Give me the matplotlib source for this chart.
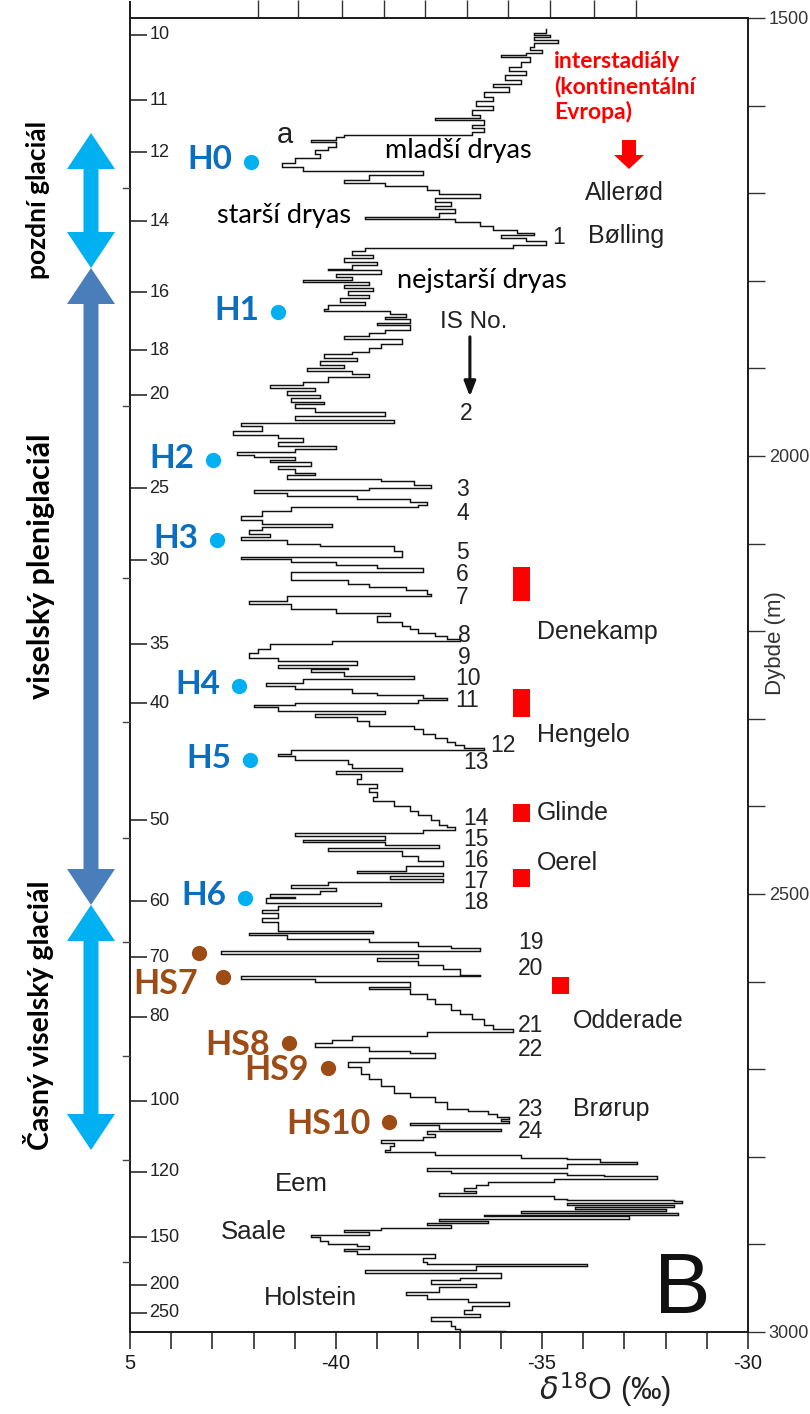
import numpy as np
import matplotlib
matplotlib.use("Agg")
import matplotlib.pyplot as plt
from matplotlib.patches import Polygon, Rectangle

plt.rcParams['font.family'] = ['Liberation Sans', 'DejaVu Sans']
CAL = ['Lato', 'DejaVu Sans']
HEL = ['Liberation Sans', 'DejaVu Sans']

# ---------------- GRIP oxygen-isotope profile ----------------
# core depth (m) and delta-18O (permil), read top to bottom
depth_m = [
    1513, 1517, 1519, 1522, 1525, 1528, 1533, 1537, 1540, 1542, 1544, 1550,
    1556, 1560, 1565, 1571, 1575, 1579, 1584, 1590, 1595, 1601, 1605, 1611,
    1614, 1617, 1622, 1626, 1630, 1633, 1636, 1639, 1642, 1647, 1651, 1655,
    1660, 1666, 1670, 1675, 1679, 1685, 1688, 1692, 1696, 1701, 1705, 1710,
    1715, 1718, 1723, 1727, 1730,
    1733, 1738, 1742, 1745, 1748, 1751, 1755, 1759, 1763, 1766, 1770, 1774,
    1778, 1782, 1786, 1788, 1792, 1796, 1799, 1801, 1805, 1808, 1812, 1816,
    1820, 1824, 1828, 1832, 1834, 1838, 1841, 1844, 1848, 1851, 1856, 1860,
    1863, 1867, 1872, 1877, 1881, 1884, 1888, 1892, 1896, 1900, 1903, 1906,
    1910, 1915, 1919, 1922, 1926, 1930, 1934, 1938, 1941, 1945, 1950, 1954,
    1959, 1962, 1966, 1972, 1976, 1980, 1984, 1989,
    1992, 1996, 1999, 2001, 2004, 2007, 2011, 2015, 2019, 2022, 2026, 2029,
    2033, 2037, 2039, 2042, 2046, 2049, 2052, 2056, 2058, 2063, 2068, 2073,
    2078, 2081, 2085, 2089, 2092, 2096, 2100, 2103, 2109, 2115, 2118, 2121,
    2124, 2128, 2132, 2137, 2141, 2146, 2149, 2153, 2157, 2160, 2165, 2169,
    2175, 2179, 2183, 2189, 2194, 2198, 2202, 2206, 2209, 2211, 2215, 2220,
    2225, 2231, 2234, 2239, 2242,
    2243, 2247, 2251, 2254, 2259, 2263, 2266, 2270, 2273, 2276, 2279, 2282,
    2284, 2287, 2291, 2294, 2298, 2303, 2308, 2312, 2317, 2322, 2327, 2330,
    2333, 2336, 2340, 2343, 2347, 2352, 2356, 2360, 2363, 2369, 2374, 2379,
    2384, 2389, 2394, 2400, 2405, 2410, 2416, 2421, 2424, 2427, 2430, 2434,
    2438, 2441, 2444, 2447, 2451, 2457, 2462, 2468, 2474, 2476, 2480, 2483,
    2486, 2490,
    2493, 2497, 2500, 2503, 2505, 2510, 2514, 2518, 2522, 2527, 2532, 2537,
    2542, 2544, 2547, 2551, 2555, 2559, 2562, 2565, 2568, 2573, 2576, 2581,
    2586, 2592, 2594, 2597, 2601, 2606, 2609, 2614, 2620, 2626, 2632, 2637,
    2643, 2649, 2654, 2658, 2662, 2667, 2670, 2675, 2679, 2682, 2687, 2692,
    2698, 2706, 2711, 2719, 2727, 2732, 2738, 2746,
    2748, 2751, 2754, 2757, 2759, 2761, 2764, 2768, 2770, 2774, 2777, 2781,
    2784, 2788, 2792, 2795, 2798, 2801, 2803, 2806, 2808, 2813, 2816, 2819,
    2821, 2822, 2825, 2829, 2832, 2836, 2839, 2841, 2845, 2848, 2849, 2851,
    2853, 2855, 2857, 2860, 2862, 2864, 2867, 2868, 2871, 2873, 2876, 2878,
    2881, 2883, 2886, 2889, 2892, 2896, 2900, 2902, 2905, 2908, 2911, 2916,
    2920, 2922, 2925, 2929, 2933, 2938, 2941, 2945, 2949, 2954, 2958, 2962,
    2966, 2970, 2975, 2979, 2983, 2988, 2993, 2997, 2999,
]
d18o = [
    -34.9, -35.2, -34.8, -35.2, -34.6, -35.2, -35.3, -35.0, -35.4, -36.0, -35.3, -35.5,
    -35.8, -35.4, -35.9, -35.5, -36.2, -35.8, -36.4, -36.2, -36.6, -36.2, -36.7, -36.5,
    -37.6, -36.4, -36.7, -36.4, -36.7, -39.8, -40.0, -40.6, -40.0, -40.2, -40.5, -40.4,
    -41.0, -41.3, -40.8, -37.9, -39.2, -39.8, -38.8, -37.8, -37.5, -36.5, -37.6, -37.2,
    -37.6, -37.1, -37.5, -39.3, -37.1,
    -36.5, -36.2, -35.6, -35.2, -36.0, -35.4, -34.9, -35.7, -39.3, -39.6, -39.1, -39.8,
    -39.0, -39.6, -40.2, -38.9, -40.0, -39.6, -40.8, -39.2, -39.8, -39.1, -39.7, -39.2,
    -39.9, -39.3, -40.2, -40.3, -38.7, -38.3, -38.8, -38.2, -39.0, -38.2, -38.8, -39.2,
    -39.8, -38.4, -38.9, -39.2, -39.6, -40.3, -39.5, -40.4, -39.8, -40.7, -39.6, -39.2,
    -40.2, -40.8, -41.6, -40.5, -41.2, -40.4, -41.1, -40.3, -41.0, -40.5, -38.8, -41.0,
    -38.6, -42.3, -41.8, -42.5, -41.4, -40.8, -41.4, -40.0,
    -41.0, -42.4, -42.0, -41.0, -41.6, -40.6, -41.4, -41.0, -40.5, -41.2, -38.9, -38.1,
    -37.7, -39.2, -42.0, -41.2, -39.5, -38.2, -37.8, -38.0, -41.1, -41.8, -42.3, -41.8,
    -40.1, -41.8, -42.1, -41.6, -42.3, -41.2, -40.4, -38.6, -38.4, -42.3, -41.1, -40.0,
    -39.0, -37.9, -41.1, -41.1, -39.7, -39.2, -38.3, -37.8, -37.7, -41.2, -42.1, -41.1,
    -40.0, -38.7, -39.0, -38.4, -38.2, -38.0, -37.6, -37.3, -37.0, -40.1, -41.6, -41.9,
    -42.1, -41.4, -39.5, -41.4, -39.7,
    -40.6, -39.8, -38.1, -40.8, -41.7, -41.0, -39.6, -39.0, -37.9, -37.3, -38.0, -41.0,
    -42.0, -41.4, -38.8, -40.5, -39.5, -39.2, -38.1, -37.9, -37.6, -37.3, -37.1, -36.9,
    -36.4, -41.1, -41.4, -41.0, -39.7, -39.6, -38.4, -40.0, -39.4, -39.5, -39.0, -39.2,
    -39.0, -39.1, -38.6, -38.2, -38.0, -37.7, -37.5, -37.3, -37.1, -37.9, -41.0, -38.8,
    -40.8, -38.8, -37.5, -40.2, -38.4, -38.0, -37.4, -38.3, -39.5, -37.4, -38.7, -37.4,
    -40.2, -41.1,
    -40.0, -40.4, -41.6, -41.0, -41.7, -38.9, -41.4, -41.8, -41.4, -41.8, -41.4, -41.4,
    -39.1, -42.1, -41.2, -39.2, -38.0, -37.2, -36.5, -42.8, -38.0, -39.0, -38.0, -37.4,
    -37.0, -36.5, -42.3, -40.5, -38.2, -39.2, -38.2, -37.8, -37.6, -37.2, -37.0, -36.7,
    -36.4, -36.2, -35.7, -37.8, -39.6, -40.1, -40.5, -39.2, -38.2, -37.6, -39.2, -39.7,
    -39.4, -39.2, -38.9, -38.6, -38.2, -37.6, -37.3, -36.8,
    -36.3, -36.1, -35.8, -36.0, -35.8, -38.2, -37.5, -36.0, -37.8, -37.6, -37.9, -38.9,
    -38.6, -38.7, -38.8, -37.6, -35.5, -34.4, -33.6, -32.7, -34.4, -37.8, -37.2, -34.4,
    -33.5, -32.2, -34.7, -36.3, -36.6, -36.9, -36.6, -37.5, -34.7, -34.4, -31.8, -31.6,
    -34.4, -31.8, -34.2, -32.0, -35.5, -31.7, -36.4, -32.9, -37.5, -36.3, -37.8, -37.2,
    -38.9, -39.8, -39.2, -40.6, -40.4, -40.2, -39.5, -39.2, -39.8, -39.5, -37.6, -37.9,
    -37.8, -33.9, -36.6, -39.3, -36.0, -37.0, -37.7, -36.6, -37.5, -38.3, -37.8, -36.8,
    -35.8, -36.7, -36.9, -36.5, -37.7, -37.2, -37.1, -37.0, -35.9,
]

# age scale (ka) written inside the left axis, at its core depth (m)
age_ka = [10, 11, 12, 14, 16, 18, 20, 25, 30, 35, 40, 50, 60, 70, 80,
          100, 120, 150, 200, 250]
age_depth_m = [1519, 1594, 1653, 1732, 1813, 1879, 1930, 2037, 2119, 2215,
               2282, 2416, 2508, 2572, 2640, 2736, 2817, 2892, 2946, 2978]

# interstadial numbers (IS No.); closely spaced runs share one text block
is_groups = ['1', '2', '3\n4', '5', '6\n7', '8\n9', '10\n11', '12', '13',
             '14\n15\n16\n17\n18', '19\n20', '21\n22', '23\n24']
is_depth_m = [1751, 1951, 2052, 2110, 2148, 2217, 2267, 2330, 2350, 2462,
              2570, 2664, 2759]
is_x = [-34.75, -37.0, -37.08, -37.08, -37.08, -37.03, -37.1, -36.25, -36.9,
        -36.9, -35.58, -35.58, -35.58]
is_spacing = [1.0, 1.0, 1.05, 1.0, 1.0, 0.95, 0.95, 1.0, 1.0, 0.89, 1.18,
              1.05, 0.95]

# Heinrich events H0-H6 (blue) and Heinrich stadials HS7-HS10 (brown)
h_labels = ['H0', 'H1', 'H2', 'H3', 'H4', 'H5', 'H6']
h_depth_m = [1664, 1836, 2005, 2096, 2263, 2347, 2504]
h_x = [-42.06, -41.41, -42.99, -42.89, -42.35, -42.09, -42.21]

hs_labels = ['', 'HS7', 'HS8', 'HS9', 'HS10']
hs_depth_m = [2567, 2595, 2670, 2699, 2760]
hs_x = [-43.33, -42.74, -41.14, -40.19, -38.71]

# continental (European) interstadials with their red markers
eu_names = ['Denekamp', 'Hengelo', 'Glinde', 'Oerel', 'Odderade', 'Brørup']
eu_depth_m = [2201, 2319, 2408, 2465, 2645, 2745]
eu_x = [-35.12, -35.12, -35.12, -35.12, -34.25, -34.25]
mark_top_m = [2127, 2266, 2397, 2471, 2595]
mark_bot_m = [2166, 2298, 2418, 2492, 2614]
mark_x0 = [-35.70, -35.70, -35.70, -35.70, -34.75]
mark_x1 = [-35.30, -35.30, -35.30, -35.30, -34.35]

# ---------------- figure ----------------
W, H = 810, 1414
fig = plt.figure(figsize=(W / 100, H / 100), dpi=100)
fig.patch.set_facecolor('white')

ax = fig.add_axes([130 / W, 82 / H, 618 / W, 1314 / H])
ax.set_xlim(-45, -30)
ax.set_ylim(3000, 1500)

ax.plot(d18o, depth_m, color='#111111', lw=1.05, drawstyle='steps-pre',
        solid_joinstyle='miter')

for s in ax.spines.values():
    s.set_linewidth(1.4)
    s.set_color('#1a1a1a')

# bottom axis
ax.set_xticks(np.arange(-45, -29, 1))
ax.set_xticklabels(['5' if v == -45 else (str(v) if v % 5 == 0 else '')
                    for v in range(-45, -29)], family=HEL, fontsize=14.5,
                   color='#222222')
ax.tick_params(axis='x', direction='out', length=12, width=1.1, pad=4,
               colors='#1a1a1a')

# top axis: ticks only
top = ax.secondary_xaxis('top')
top.set_xticks([-41.89, -40.92, -39.85, -38.83, -37.84, -36.82, -35.83,
                -34.81, -33.74, -32.72])
top.set_xticklabels([])
top.tick_params(direction='out', length=13, width=1.0, colors='#333333')
top.spines['top'].set_visible(False)

# left axis: age ticks pointing inward, labels inside the frame
ax.set_yticks(age_depth_m)
ax.set_yticklabels([])
ax.tick_params(axis='y', left=True, right=False, direction='in', length=12,
               width=1.1, colors='#1a1a1a')
ytrans = ax.get_yaxis_transform()
for a, d in zip(age_ka, age_depth_m):
    ax.text(0.031, d, str(a), transform=ytrans, ha='left', va='center',
            family=HEL, fontsize=13, color='#222222')

# right axis: depth in metres
right = ax.secondary_yaxis('right')
right.set_yticks([1500, 2000, 2500, 3000])
right.set_yticks(np.arange(1500, 3001, 100), minor=True)
right.set_yticklabels(['1500', '2000', '2500', '3000'], family=HEL,
                      fontsize=13, color='#333333')
right.tick_params(which='both', direction='out', length=12, width=1.0,
                  pad=3, colors='#333333')
right.spines['right'].set_visible(False)

# ---------------- annotations inside the profile ----------------
ax.text(-41.24, 1634, 'a', family=HEL, fontsize=21, ha='center', va='center',
        color='#222222')
ax.text(-37.04, 1651, 'mladší dryas', family=CAL, fontsize=19.5, ha='center',
        va='center', color='black')
ax.text(-41.26, 1725, 'starší dryas', family=CAL, fontsize=19.5, ha='center',
        va='center', color='black')
ax.text(-36.46, 1800, 'nejstarší dryas', family=CAL, fontsize=19.5,
        ha='center', va='center', color='black')
ax.text(-34.7, 1579, 'interstadiály\n(kontinentální\nEvropa)', family=CAL,
        fontsize=16.5, fontweight='bold', color='#ff0000', ha='left',
        va='center', linespacing=1.2)
ax.text(-32.99, 1700, 'Allerød', family=HEL, fontsize=18, ha='center',
        va='center', color='#222222')
ax.text(-32.95, 1749, 'Bølling', family=HEL, fontsize=18, ha='center',
        va='center', color='#222222')
ax.text(-36.65, 1847, 'IS No.', family=HEL, fontsize=17.5, ha='center',
        va='center', color='#222222')
ax.annotate('', xy=(-36.75, 1932), xytext=(-36.75, 1864),
            arrowprops=dict(arrowstyle='-|>,head_length=0.9,head_width=0.35',
                            lw=2.2, color='#111111', shrinkA=0, shrinkB=0))

for lab, d, x, ls in zip(is_groups, is_depth_m, is_x, is_spacing):
    ax.text(x, d, lab, family=HEL, fontsize=16.5, ha='left', va='center',
            color='#222222', linespacing=ls)

for name, d, x in zip(eu_names, eu_depth_m, eu_x):
    ax.text(x, d, name, family=HEL, fontsize=18, ha='left', va='center',
            color='#222222')
for x0, x1, t, b in zip(mark_x0, mark_x1, mark_top_m, mark_bot_m):
    ax.add_patch(Rectangle((x0, t), x1 - x0, b - t, color='#ff0000', lw=0,
                           zorder=4))

ax.text(-40.85, 2831, 'Eem', family=HEL, fontsize=18.5, ha='center',
        va='center', color='#222222')
ax.text(-41.99, 2886, 'Saale', family=HEL, fontsize=18.5, ha='center',
        va='center', color='#222222')
ax.text(-40.61, 2961, 'Holstein', family=HEL, fontsize=18.5, ha='center',
        va='center', color='#222222')
ax.text(-31.6, 2953, 'B', family=HEL, fontsize=61, ha='center', va='center',
        color='#111111')

# Heinrich markers
for lab, d, x in zip(h_labels, h_depth_m, h_x):
    ax.plot(x, d, 'o', ms=11, color='#00b0f0', mec='none', zorder=5)
    ax.text(x - 0.46, d - 2, lab, family=CAL, fontsize=24, fontweight='bold',
            color='#0a6fc0', ha='right', va='center')
for i, (lab, d, x) in enumerate(zip(hs_labels, hs_depth_m, hs_x)):
    ax.plot(x, d, 'o', ms=11, color='#9c4c14', mec='none', zorder=5)
    if lab:
        dx = 0.62 if lab == 'HS7' else 0.46
        dd = 8 if lab == 'HS7' else 2
        ax.text(x - dx, d + dd, lab, family=CAL, fontsize=24.5,
                fontweight='bold', color='#9c4c14', ha='right', va='center')

# ---------------- page-level decoration (pixel frame) ----------------
ov = fig.add_axes([0, 0, 1, 1], zorder=5)
ov.set_xlim(0, W)
ov.set_ylim(H, 0)
ov.axis('off')
ov.patch.set_alpha(0)

# left spine reaching above the frame, and small outer ticks
ov.plot([130, 130], [2, 18], color='#1a1a1a', lw=1.4)
for yy in [188, 406, 578, 722, 838, 942, 1056, 1160, 1262]:
    ov.plot([123, 130], [yy, yy], color='#444444', lw=1.0)


def double_arrow(xc, y0, y1, w, hw, hl, color):
    pts = [(xc, y0), (xc + hw, y0 + hl), (xc + w, y0 + hl), (xc + w, y1 - hl),
           (xc + hw, y1 - hl), (xc, y1), (xc - hw, y1 - hl), (xc - w, y1 - hl),
           (xc - w, y0 + hl), (xc - hw, y0 + hl)]
    ov.add_patch(Polygon(pts, closed=True, color=color, lw=0))


double_arrow(91, 133, 268, 7.5, 24, 36, '#00b0f0')
double_arrow(91, 905, 1150, 7.5, 24, 36, '#00b0f0')
double_arrow(91, 268, 905, 7.5, 24, 36, '#4a7ebb')

ov.text(38, 200, 'pozdní glaciál', family=CAL, fontsize=19, fontweight='bold',
        rotation=90, ha='center', va='center', color='black')
ov.text(41, 566, 'viselský pleniglaciál', family=CAL, fontsize=22,
        fontweight='bold', rotation=90, ha='center', va='center',
        color='black')
ov.text(39, 1015, 'Časný viselský glaciál', family=CAL, fontsize=20.5,
        fontweight='bold', rotation=90, ha='center', va='center',
        color='black')

# red block arrow under the interstadial heading
ov.add_patch(Polygon([(622, 140), (636, 140), (636, 155), (644, 155),
                      (629, 169), (614, 155), (622, 155)], closed=True,
                     color='#ff0000', lw=0))

# axis titles
ov.text(776, 643, 'Dybde (m)', family=HEL, fontsize=16, rotation=90,
        ha='center', va='center', color='#333333')
ov.text(605, 1390, r'$\delta^{18}$O (‰)', family=HEL, fontsize=22,
        ha='center', va='center', color='#222222')

fig.savefig('out.png', dpi=100, facecolor='white')
